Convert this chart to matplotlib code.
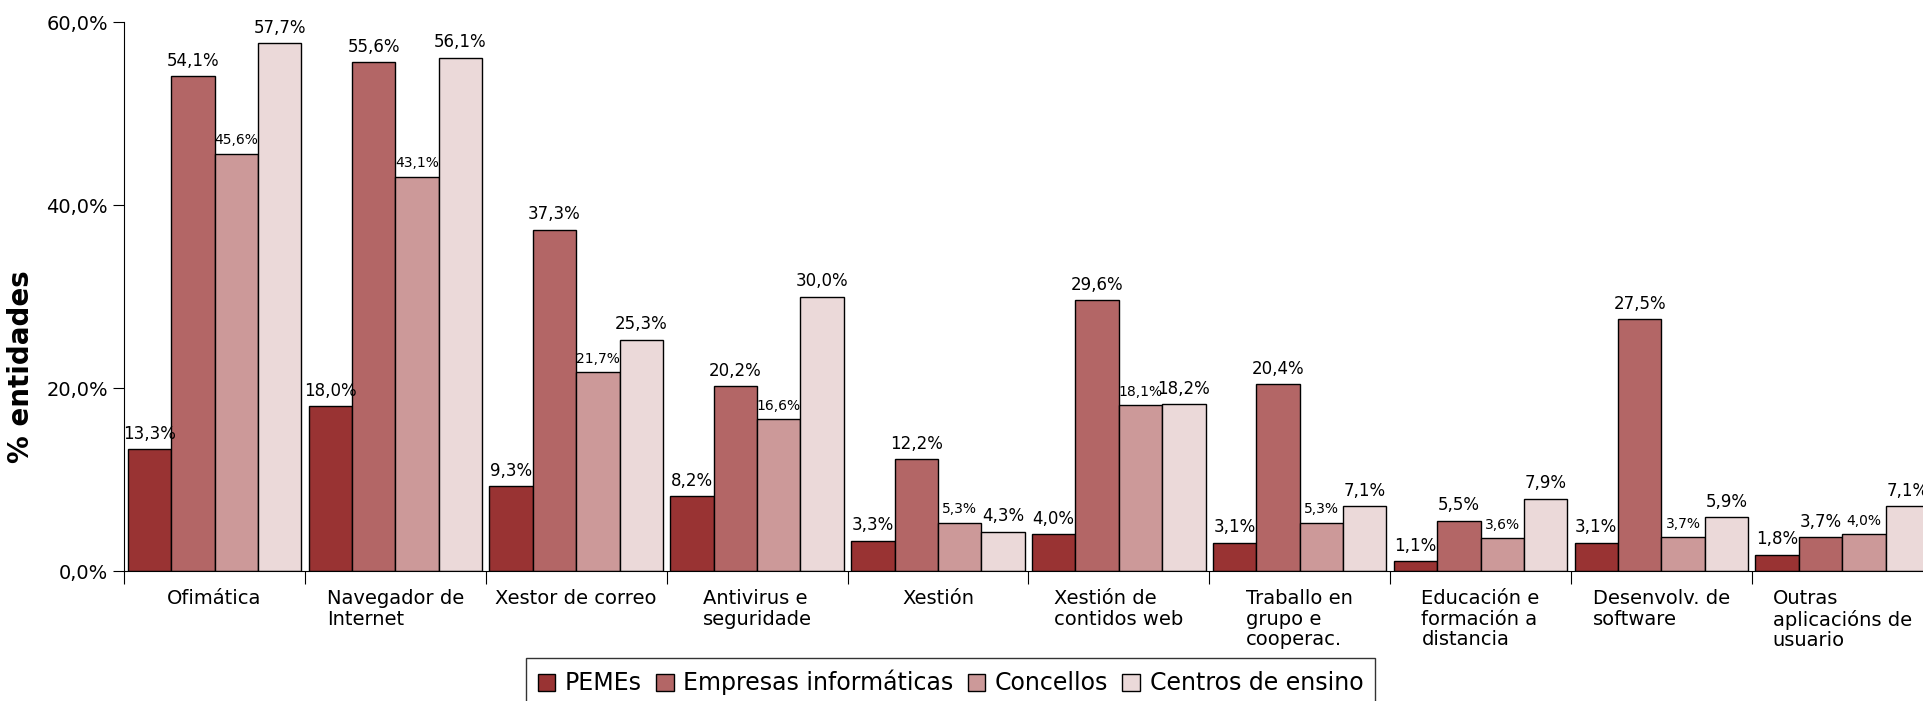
import numpy as np
from matplotlib import pyplot as plt
from matplotlib.ticker import FuncFormatter

# Categories and series values (% entidades)
categories = ['Ofimática', 'Navegador de\nInternet', 'Xestor de correo',
              'Antivirus e\nseguridade', 'Xestión', 'Xestión de\ncontidos web',
              'Traballo en\ngrupo e\ncooperac.', 'Educación e\nformación a\ndistancia',
              'Desenvolv. de\nsoftware', 'Outras\naplicacións de\nusuario']
pemes = [13.3, 18.0, 9.3, 8.2, 3.3, 4.0, 3.1, 1.1, 3.1, 1.8]
empresas = [54.1, 55.6, 37.3, 20.2, 12.2, 29.6, 20.4, 5.5, 27.5, 3.7]
concellos = [45.6, 43.1, 21.7, 16.6, 5.3, 18.1, 5.3, 3.6, 3.7, 4.0]
centros = [57.7, 56.1, 25.3, 30.0, 4.3, 18.2, 7.1, 7.9, 5.9, 7.1]

series = [('PEMEs', pemes, '#993333', 12),
          ('Empresas informáticas', empresas, '#b36666', 12),
          ('Concellos', concellos, '#cc9999', 10),
          ('Centros de ensino', centros, '#ebd9d9', 12)]

fig = plt.figure(figsize=(19.24, 7.01), dpi=100)
ax = fig.add_axes([0.0645, 0.1854, 0.94, 0.7832])

x = np.arange(len(categories))
width = 0.24
for i, (name, vals, color, fs) in enumerate(series):
    pos = x - 0.36 + i * width
    ax.bar(pos, vals, width, color=color, edgecolor='black', linewidth=1, label=name)
    for p, v in zip(pos, vals):
        ax.text(p, v + 0.7, f'{v:.1f}%'.replace('.', ','), ha='center', va='bottom',
                fontsize=fs)

ax.set_xlim(-0.5, len(categories) - 0.5)
ax.set_ylim(0, 60)
ax.set_yticks([0, 20, 40, 60])
ax.yaxis.set_major_formatter(FuncFormatter(lambda v, p: f'{v:.1f}%'.replace('.', ',')))
ax.tick_params(axis='y', labelsize=14, length=8, direction='out')

# group boundaries as major ticks, names as minor ticks
ax.set_xticks(np.arange(len(categories) + 1) - 0.5)
ax.set_xticklabels([])
ax.tick_params(axis='x', which='major', length=9, direction='out')
ax.set_xticks(x, minor=True)
ax.set_xticklabels(categories, minor=True, fontsize=14, multialignment='left',
                   linespacing=1.1)
ax.tick_params(axis='x', which='minor', length=0, pad=13)

ax.spines['top'].set_visible(False)
ax.spines['right'].set_visible(False)
ax.set_ylabel('% entidades', fontsize=20, fontweight='bold')
ax.yaxis.set_label_coords(-0.049, 0.3725)

fig.legend(loc='upper center', bbox_to_anchor=(0.494, 0.078), ncol=4, fontsize=17,
           frameon=True, fancybox=False, edgecolor='black', handlelength=0.75,
           handleheight=0.75, handletextpad=0.4, columnspacing=0.6, borderpad=0.5)

fig.savefig('out.png', dpi=100)
